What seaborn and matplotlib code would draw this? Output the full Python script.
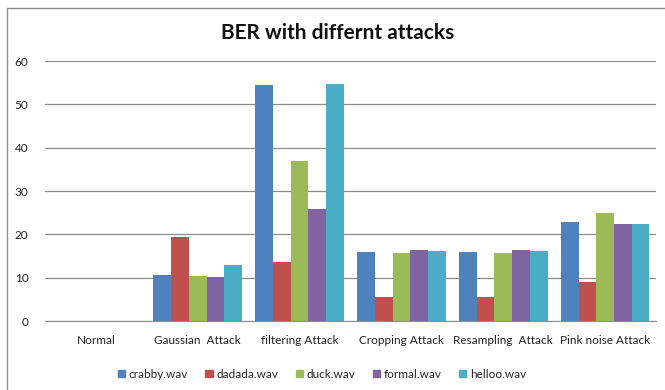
import matplotlib
matplotlib.use('Agg')
import matplotlib.pyplot as plt
import matplotlib.patches as mpatches
import matplotlib.lines as mlines
import pandas as pd
import seaborn as sns

# ---------------------------------------------------------------------
# data

attacks = ['Normal', 'Gaussian  Attack', 'filtering Attack', 'Cropping Attack',
           'Resampling  Attack', 'Pink noise Attack']
files = ['crabby.wav', 'dadada.wav', 'duck.wav', 'formal.wav', 'helloo.wav']

crabby = [0, 10.6, 54.4, 15.9, 15.9, 22.9]
dadada = [0, 19.4, 13.7, 5.5, 5.5, 8.9]
duck = [0, 10.3, 37.0, 15.7, 15.7, 24.9]
formal = [0, 10.1, 25.8, 16.3, 16.3, 22.3]
helloo = [0, 13.0, 54.6, 16.1, 16.1, 22.5]

colors = ['#4F81BD', '#C0504D', '#9BBB59', '#8064A2', '#4BACC6']

# ---------------------------------------------------------------------
# long form table for seaborn

rows = []
for name, vals in zip(files, [crabby, dadada, duck, formal, helloo]):
    for a, v in zip(attacks, vals):
        rows.append({'attack': a, 'file': name, 'BER': v})
df = pd.DataFrame(rows)

sns.set_style('white')
plt.rcParams['font.family'] = ['Lato', 'DejaVu Sans']

fig = plt.figure(figsize=(6.65, 3.9), dpi=100)
ax = fig.add_axes([45 / 665, 1 - 321 / 390, 611 / 665, 260 / 390])

sns.barplot(data=df, x='attack', y='BER', hue='file', order=attacks,
            hue_order=files, palette=colors, width=0.87, saturation=1,
            linewidth=0, ax=ax, legend=False)

ax.set_ylim(0, 60)
ax.set_xlim(-0.5, 5.5)
ax.set_yticks(range(0, 61, 10))
ax.yaxis.grid(True, color='#8c8c8c', linewidth=0.9)
ax.set_axisbelow(True)
for s in ['left', 'right', 'top']:
    ax.spines[s].set_visible(False)
ax.spines['bottom'].set_color('#8c8c8c')
ax.tick_params(axis='both', length=0, labelsize=8.5, colors='#222222')
ax.tick_params(axis='x', pad=10)
ax.tick_params(axis='y', pad=12)
ax.set_xlabel('')
ax.set_ylabel('')

fig.text(338 / 665, 1 - 33 / 390, 'BER with differnt attacks', ha='center',
         va='center', fontsize=15, fontweight='bold', color='#111111')

handles = [mpatches.Patch(color=c, label=f) for c, f in zip(colors, files)]
fig.legend(handles=handles, loc='center', bbox_to_anchor=(322 / 665, 1 - 374 / 390),
           ncol=5, frameon=False, fontsize=8.5, handlelength=0.6, handleheight=0.6,
           handletextpad=0.3, columnspacing=1.5)

# outer frame of the chart (left and top edges show)
fig.lines.append(mlines.Line2D([7 / 665, 7 / 665], [0, 1 - 8 / 390],
                               transform=fig.transFigure, color='#8c8c8c', linewidth=1))
fig.lines.append(mlines.Line2D([7 / 665, 1], [1 - 8 / 390, 1 - 8 / 390],
                               transform=fig.transFigure, color='#8c8c8c', linewidth=1))

fig.savefig('out.png', dpi=100)
